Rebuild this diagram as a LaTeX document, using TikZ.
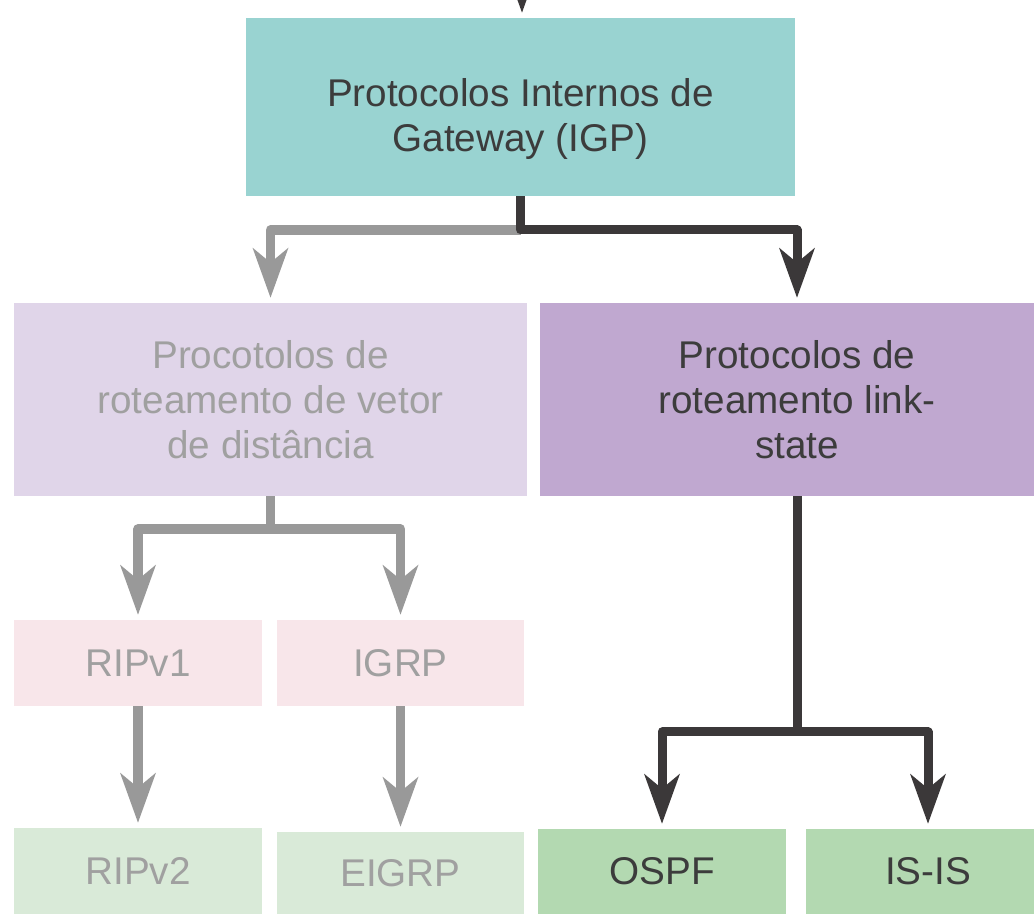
\documentclass[tikz,border=0pt]{standalone}
\usepackage{fontspec}
\setmainfont{Liberation Sans}
\usetikzlibrary{arrows.meta, calc}
\usepackage{xcolor}
\definecolor{igpteal}{HTML}{99D3D1}
\definecolor{dvlilac}{HTML}{E0D5E9}
\definecolor{lspurple}{HTML}{C0A8D0}
\definecolor{oldpink}{HTML}{F8E6EA}
\definecolor{oldgreen}{HTML}{D9EAD8}
\definecolor{lsgreen}{HTML}{B3D9B1}
\definecolor{textdark}{HTML}{3C3C3C}
\definecolor{textgrey}{HTML}{A0A0A0}
\definecolor{arrowgrey}{HTML}{999999}
\definecolor{arrowdark}{HTML}{3B3839}

\begin{document}
\begin{tikzpicture}[x=0.2mm, y=-0.2mm,
	box/.style={rectangle, inner sep=0pt, align=center, font=\fontsize{22}{25.6}\selectfont},
	greyline/.style={line width=1.9mm, color=arrowgrey, line join=round, shorten >=1mm,
		-{Stealth[length=10mm, width=7.2mm, inset=3mm, line width=0pt]}},
	darkline/.style={line width=1.8mm, color=arrowdark, line join=round, shorten >=1mm,
		-{Stealth[length=10mm, width=7.2mm, inset=3mm, line width=0pt]}}]
	\useasboundingbox (0,0) rectangle (1034,914);
	\clip (0,0) rectangle (1034,914);
	\node [box, fill=igpteal, text=textdark, minimum width=10.98cm, minimum height=3.56cm] (igp) at (520.5,107) {\rule{0pt}{29.7pt}Protocolos Internos de\\Gateway (IGP)};
	\node [box, fill=dvlilac, text=textgrey, minimum width=10.26cm, minimum height=3.86cm] (dv) at (270.5,399.5) {Procotolos de\\roteamento de vetor\\de distância};
	\node [box, fill=lspurple, text=textdark, minimum width=10.28cm, minimum height=3.86cm] (ls) at (797,399.5) {Protocolos de\\roteamento link-\\state};
	\node [box, fill=oldpink, text=textgrey, minimum width=4.96cm, minimum height=1.72cm] (rip1) at (138,663) {RIPv1};
	\node [box, fill=oldpink, text=textgrey, minimum width=4.94cm, minimum height=1.72cm] (igrp) at (400.5,663) {IGRP};
	\node [box, fill=oldgreen, text=textgrey, minimum width=4.96cm, minimum height=1.72cm] (rip2) at (138,871) {RIPv2};
	\node [box, fill=oldgreen, text=textgrey, minimum width=4.94cm, minimum height=1.64cm] (eigrp) at (400.5,873) {EIGRP};
	\node [box, fill=lsgreen, text=textdark, minimum width=4.96cm, minimum height=1.70cm] (ospf) at (662,871.5) {OSPF};
	\node [box, fill=lsgreen, text=textdark, minimum width=4.88cm, minimum height=1.70cm] (isis) at (928,871.5) {IS-IS};
	\coordinate (above) at (522,-80);
	\coordinate (igpsplit) at (520.5,230);
	\coordinate (dvsplit) at (270.5,529);
	\coordinate (lssplit) at (797,732);
	\draw [darkline] (above) -- (above |- igp.north);
	\draw [greyline] (igpsplit) -| (dv.north);
	\draw [darkline] (igp.south) -- (igpsplit) -| (ls.north);
	\draw [greyline] (dv.south) -- (dvsplit) -| (rip1.north);
	\draw [greyline] (dvsplit) -| (igrp.north);
	\draw [greyline] (rip1) -- (rip2);
	\draw [greyline] (igrp) -- (eigrp);
	\draw [darkline] (ls.south) -- (lssplit) -| (ospf.north);
	\draw [darkline] (lssplit) -| (isis.north);
\end{tikzpicture}
\end{document}
